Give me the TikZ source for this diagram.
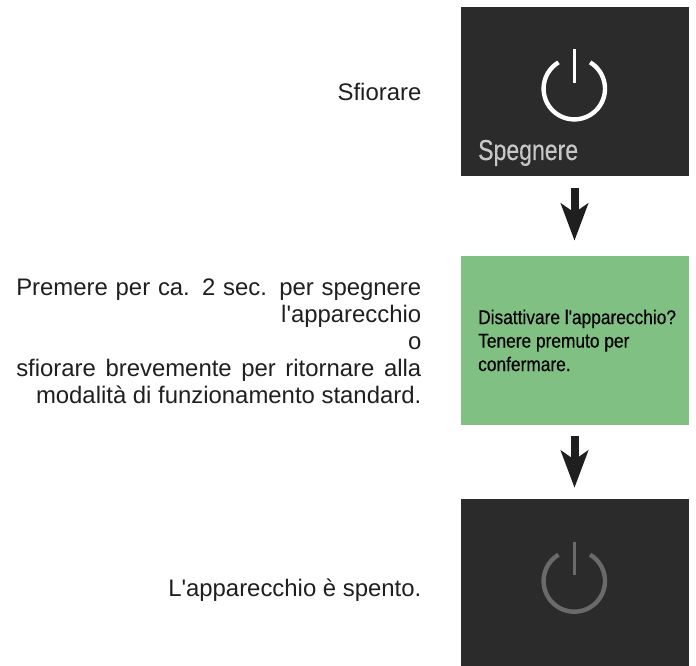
\documentclass[tikz,border=0pt]{standalone}
\usepackage{fontspec}
\setmainfont{Liberation Sans}
\newfontfamily\plainfont{Liberation Sans}
\newfontfamily\narrowfont[FakeStretch=0.80,FakeBold=0.2]{Liberation Sans}
\newfontfamily\promptfont[FakeStretch=0.875,FakeBold=0.35]{Liberation Sans}
\usetikzlibrary{arrows.meta}
\definecolor{panel}{HTML}{2B2B2B}
\definecolor{panelgreen}{HTML}{80C183}
\definecolor{bodytext}{HTML}{1F1F1F}
\definecolor{labelgrey}{HTML}{C8C8C8}
\definecolor{dimicon}{HTML}{6A6A6A}
\tikzset{
  panelbox/.style={minimum width=228pt,minimum height=169pt,inner sep=0pt,outer sep=0pt,anchor=north west},
  desc/.style={anchor=east,align=right,inner sep=0pt,text=bodytext,font=\plainfont\fontsize{23.9}{27}\selectfont},
  flow/.style={draw=black!88,line width=8pt,-{Stealth[length=37pt,width=27pt,inset=9pt]}},
  paneltext/.style={anchor=north west,align=left,inner sep=0pt},
  ringline/.style={line cap=butt,fill=none}
}
\begin{document}
\begin{tikzpicture}[x=1pt,y=-1pt]
\useasboundingbox (0,0) rectangle (696,666);
\node[panelbox,fill=panel] (off) at (460.5,7) {};
\node[panelbox,fill=panelgreen] (confirm) at (460.5,256) {};
\node[panelbox,fill=panel] (done) at (460.5,498.5) {};
% power icons
\draw[ringline,draw=white,line width=4.4pt] (574.3,88.7) ++(-59:30.7) arc[start angle=-59,end angle=239,radius=30.7];
\draw[ringline,draw=white,line width=3pt] (574.3,49.3) -- (574.3,82.7);
\draw[ringline,draw=dimicon,line width=4.4pt] (574.3,581) ++(-59:30.7) arc[start angle=-59,end angle=239,radius=30.7];
\draw[ringline,draw=dimicon,line width=3pt] (574.3,541.7) -- (574.3,575);
% panel texts
\node[anchor=base west,inner sep=0pt,text=labelgrey,font=\narrowfont\fontsize{28.8}{30}\selectfont] (offlabel) at (478,160) {Spegnere};
\node[paneltext,text=black,font=\promptfont\fontsize{19.8}{23.5}\selectfont] (confirmlabel) at (478,309.5) {Disattivare l'apparecchio?\\Tenere premuto per\\confermare.};
% descriptions
\node[desc] (touch) at (421.5,92) {Sfiorare};
\node[desc] (press) at (421.5,341) {\makebox[405pt][s]{Premere per ca. 2 sec. per spegnere}\\l'apparecchio\\o\\\makebox[405pt][s]{sfiorare brevemente per ritornare alla}\\modalità di funzionamento standard.};
\node[desc] (state) at (421.5,590) {L'apparecchio è spento.};
% arrows
\draw[flow,shorten <=12pt,shorten >=15.3pt] (off.south) -- (confirm.north);
\draw[flow,shorten <=11pt,shorten >=10.7pt] (confirm.south) -- (done.north);
\end{tikzpicture}
\end{document}
